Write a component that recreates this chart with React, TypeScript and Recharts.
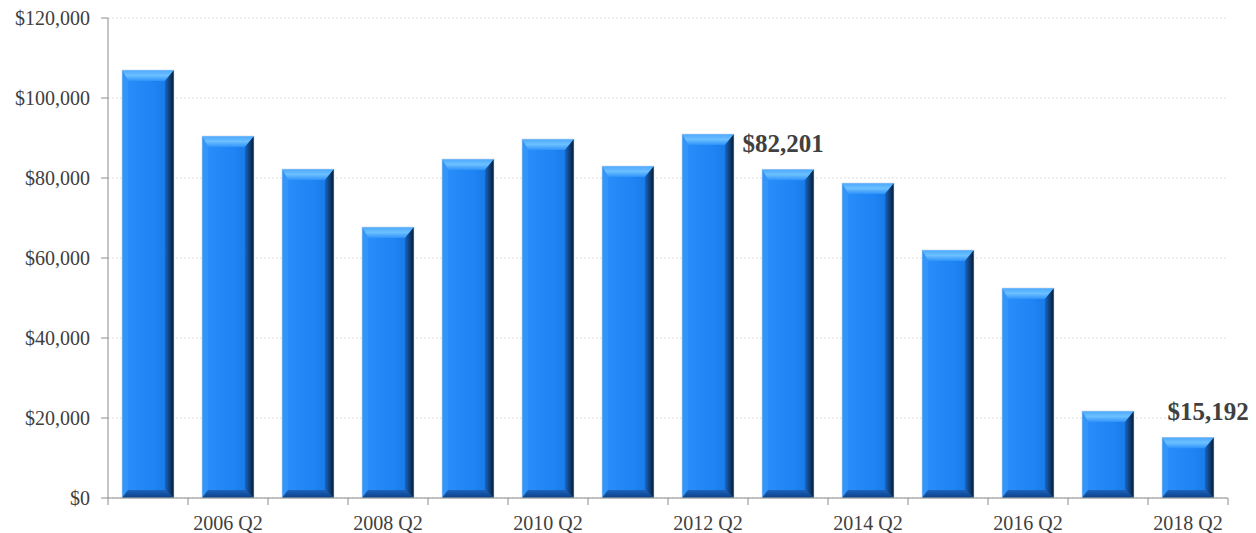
import { BarChart, Bar, XAxis, YAxis, CartesianGrid, LabelList } from "recharts";

const quarters = [
  "2005 Q2", "2006 Q2", "2007 Q2", "2008 Q2", "2009 Q2", "2010 Q2", "2011 Q2",
  "2012 Q2", "2013 Q2", "2014 Q2", "2015 Q2", "2016 Q2", "2017 Q2", "2018 Q2",
];
const amounts = [
  107000, 90500, 82250, 67750, 84750, 89750, 83000,
  91000, 82201, 78750, 62000, 52500, 21750, 15192,
];
const yTicks = [0, 20000, 40000, 60000, 80000, 100000, 120000];
const calloutIdx = [8, 13];

const data = quarters.map((q, i) => ({ quarter: q, amount: amounts[i] }));

const W = 1256;
const H = 533;
const M = { top: 18, right: 28, left: 0, bottom: 0 };
const Y_W = 108;
const X_H = 35;
const BAND = (W - Y_W - M.right) / quarters.length;
const AXIS_Y = H - X_H;
const FONT = '"Liberation Serif", "Times New Roman", serif';
const GREY = "#404040";
const AXIS = "#8c8c8c";

const money = (v: number) => "$" + v.toLocaleString("en-US");

function BevelBar(props: any) {
  const { x, y, width: w, height: h, index } = props;
  if (!h || h <= 0) return null;
  const t = Math.min(11, h / 4);
  const l = 6;
  const r = 9;
  const b = Math.min(8, h / 5);
  const id = "bb" + index;
  return (
    <g>
      <defs>
        <linearGradient id={id + "f"} x1="0" y1="0" x2="1" y2="0">
          <stop offset="0" stopColor="#2a8ff9" />
          <stop offset="0.6" stopColor="#1f84f4" />
          <stop offset="1" stopColor="#1874e0" />
        </linearGradient>
        <linearGradient id={id + "t"} x1="0" y1="0" x2="0" y2="1">
          <stop offset="0" stopColor="#4aa8ff" />
          <stop offset="0.5" stopColor="#6cc0ff" />
          <stop offset="1" stopColor="#2e92fa" />
        </linearGradient>
        <linearGradient id={id + "r"} x1="0" y1="0" x2="1" y2="0">
          <stop offset="0" stopColor="#1766c0" />
          <stop offset="1" stopColor="#061a34" />
        </linearGradient>
        <linearGradient id={id + "b"} x1="0" y1="0" x2="0" y2="1">
          <stop offset="0" stopColor="#1a64bd" />
          <stop offset="1" stopColor="#0d3f85" />
        </linearGradient>
      </defs>
      <rect x={x} y={y} width={w} height={h} fill={`url(#${id}f)`} />
      <polygon
        points={`${x},${y} ${x + w},${y} ${x + w - r},${y + t} ${x + l},${y + t}`}
        fill={`url(#${id}t)`}
      />
      <polygon
        points={`${x},${y} ${x + l},${y + t} ${x + l},${y + h - b} ${x},${y + h}`}
        fill="#3394fa"
      />
      <polygon
        points={`${x + w},${y} ${x + w},${y + h} ${x + w - r},${y + h - b} ${x + w - r},${y + t}`}
        fill={`url(#${id}r)`}
      />
      <polygon
        points={`${x},${y + h} ${x + l},${y + h - b} ${x + w - r},${y + h - b} ${x + w},${y + h}`}
        fill={`url(#${id}b)`}
      />
      <rect x={x} y={y} width={w} height={h} fill="none" stroke="#c9d6e3" strokeWidth={0.6} />
    </g>
  );
}

function QuarterTick(props: any) {
  const { x, payload, index } = props;
  const left = x - BAND / 2;
  const last = index === quarters.length - 1;
  return (
    <g>
      <line x1={left} x2={left} y1={AXIS_Y} y2={AXIS_Y + 7} stroke={AXIS} />
      {last && (
        <line x1={left + BAND} x2={left + BAND} y1={AXIS_Y} y2={AXIS_Y + 7} stroke={AXIS} />
      )}
      {index % 2 === 1 && (
        <text x={x} y={AXIS_Y + 32} textAnchor="middle" fill={GREY} fontSize={20} fontFamily={FONT}>
          {payload.value}
        </text>
      )}
    </g>
  );
}

function Callout(props: any) {
  const { x, y, width, index, value } = props;
  if (!calloutIdx.includes(index)) return null;
  const shift = index === quarters.length - 1 ? 20 : -5;
  return (
    <text
      x={x + width / 2 + shift}
      y={y - 17}
      textAnchor="middle"
      fill={GREY}
      fontSize={25}
      fontWeight="bold"
      fontFamily={FONT}
    >
      {money(value)}
    </text>
  );
}

export default function App() {
  return (
    <div style={{ position: "absolute", left: 0, top: 0, width: W, height: H, background: "#fff" }}>
      <BarChart width={W} height={H} data={data} margin={M} barSize={52}>
        <CartesianGrid vertical={false} stroke="#dcdcdc" strokeDasharray="2 2" />
        <XAxis
          dataKey="quarter"
          height={X_H}
          interval={0}
          axisLine={{ stroke: AXIS }}
          tickLine={false}
          tick={<QuarterTick />}
        />
        <YAxis
          width={Y_W}
          domain={[0, 120000]}
          ticks={yTicks}
          tickFormatter={money}
          axisLine={{ stroke: AXIS }}
          tickLine={{ stroke: AXIS }}
          tickSize={7}
          tickMargin={11}
          tick={{ fill: GREY, fontSize: 20, fontFamily: FONT }}
        />
        <Bar dataKey="amount" shape={<BevelBar />} isAnimationActive={false}>
          <LabelList dataKey="amount" content={<Callout />} />
        </Bar>
      </BarChart>
    </div>
  );
}
